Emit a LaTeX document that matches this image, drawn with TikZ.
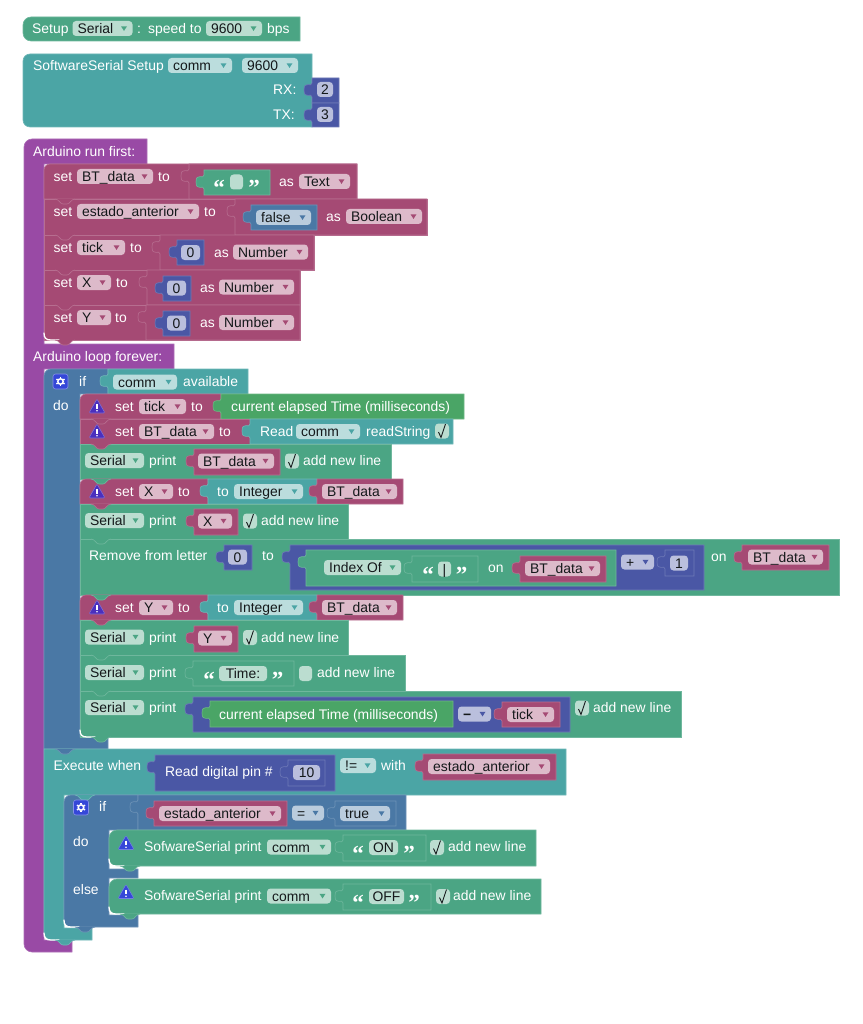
\documentclass[tikz,border=0pt]{standalone}
\usepackage{fontspec}
\setmainfont{Liberation Sans}
\newfontfamily\quotefont{Liberation Serif}
\definecolor{serialgreen}{HTML}{4BA584}
\definecolor{softteal}{HTML}{4BA5A5}
\definecolor{hatpurple}{HTML}{994AA5}
\definecolor{varmaroon}{HTML}{A54A74}
\definecolor{numblue}{HTML}{4A57A5}
\definecolor{logicblue}{HTML}{4A78A5}
\definecolor{timegreen}{HTML}{4AA566}
\definecolor{gearblue}{HTML}{3547D8}
\definecolor{warnpurple}{HTML}{4A2FBE}
\definecolor{pilltext}{HTML}{14181A}
\tikzset{
	every node/.style={font=\fontsize{13.9}{14}\selectfont,inner sep=0pt,text height=10pt,text depth=0pt},
	blk/.style={draw=#1!80!white,fill=#1,line width=.6pt},
	lbl/.style={anchor=west,text=white,yshift=-.4pt},
	pilltxt/.style={anchor=west,text=pilltext},
	midtxt/.style={anchor=center,text=pilltext},
	qmark/.style={anchor=center,text=white,text height=0pt,font=\quotefont\bfseries\fontsize{23}{23}\selectfont},
}
\newcount\lblno
\def\lab(#1,#2)#3{\global\advance\lblno by 1 \node[lbl] (lab\the\lblno) at (#1,#2) {#3};}
\def\rowb[#1](#2,#3,#4,#5){\draw[blk=#1] (#2,#3) rectangle (#4,#5);}
\def\rnd[#1](#2,#3,#4,#5){\draw[blk=#1] (#4,#3) [rounded corners=6pt] -- (#2,#3) [sharp corners] -- (#2,#5) -- (#4,#5) -- cycle;}
\def\val[#1](#2,#3,#4,#5){\draw[blk=#1] (#2,#3) -- (#2,{#3+5}) .. controls (#2,{#3+10}) and ({#2-8},{#3+2}) .. ({#2-8},{#3+12}) .. controls ({#2-8},{#3+22}) and (#2,{#3+14}) .. (#2,{#3+19}) -- (#2,#5) -- (#4,#5) -- (#4,#3) -- cycle;}
\def\bump[#1](#2,#3){\draw[blk=#1] ({#2+11},#3) .. controls ({#2+15},#3) and ({#2+16},{#3+5}) .. ({#2+19},{#3+5}) -- ({#2+23},{#3+5}) .. controls ({#2+26},{#3+5}) and ({#2+27},#3) .. ({#2+31},#3);}
\def\corn(#1,#2){\draw[white,line width=1.3pt,line cap=round] (#1,{#2-7}) .. controls (#1,{#2-2}) and ({#1+2},#2) .. ({#1+7},#2) -- ({#1+15},#2);}
\def\pill[#1](#2,#3,#4)#5{\global\advance\lblno by 1
	\fill[#1!38!white,rounded corners=3.5pt] (#2,{#4-7.5}) rectangle (#3,{#4+7.5});
	\node[pilltxt] (pill\the\lblno) at ({#2+5},#4) {#5};
	\fill[#1] ({#3-11.5},{#4-2.2}) -- ({#3-5.5},{#4-2.2}) -- ({#3-8.5},{#4+2.4}) -- cycle;}
\def\fld[#1](#2,#3,#4)#5{\global\advance\lblno by 1
	\fill[#1!38!white,rounded corners=3.5pt] (#2,{#4-7.5}) rectangle (#3,{#4+7.5});
	\node[midtxt] (fld\the\lblno) at ({(#2+#3)/2},#4) {#5};}
\def\chk(#1,#2){\fill[serialgreen!38!white,rounded corners=3.5pt] (#1,{#2-7.5}) rectangle ({#1+14},{#2+7.5});
	\draw[pilltext,line width=.9pt] ({#1+3.5},{#2+1}) -- ({#1+6},{#2+6.5}) -- ({#1+10.5},{#2-7});}
\def\quo(#1,#2,#3){\global\advance\lblno by 1
	\node[qmark] (qa\the\lblno) at (#1,{#3+26}) {“};
	\node[qmark] (qb\the\lblno) at (#2,{#3+26}) {”};}
\def\warn[#1](#2,#3){\draw[fill=#1,draw=#1!70!white,line width=.6pt,rounded corners=1.2pt] (#2,{#3-7.5}) -- ({#2+8},{#3+6.5}) -- ({#2-8},{#3+6.5}) -- cycle;
	\draw[white,line width=1.5pt] (#2,{#3-2.5}) -- (#2,{#3+2});
	\fill[white] (#2,{#3+4.3}) circle (.9);}
\def\gear(#1,#2){\draw[fill=gearblue,draw=gearblue!60!white,line width=.6pt,rounded corners=2.5pt] ({#1-7.5},{#2-7.5}) rectangle ({#1+7.5},{#2+7.5});
	\draw[white,line width=1.5pt] (#1,#2) circle (2.7);
	\foreach \a in {30,90,...,330} \draw[white,line width=1.5pt] (#1,#2) ++(\a:3.2) -- ++(\a:1.5);}

\begin{document}
\begin{tikzpicture}[x=1pt,y=-1pt]
	\useasboundingbox (0,0) rectangle (862,1024);
	%%%%% SETUP %%%%%
	\draw[blk=serialgreen] (300,17) [rounded corners=8pt] -- (23,17) -- (23,41) [sharp corners] -- (300,41) -- cycle;
	\lab(32,28.5){Setup}
	\pill[serialgreen](72.5,132.5,28.5){Serial}
	\lab(137,28.5){:}
	\lab(148,28.5){speed to}
	\pill[serialgreen](206,262,28.5){9600}
	\lab(267,28.5){bps}
	
	\draw[blk=softteal] (312,54) [rounded corners=7pt] -- (23,54) -- (23,127) [sharp corners] -- (312,127) -- cycle;
	\lab(33,65.5){SoftwareSerial Setup}
	\pill[softteal](168,232,65.5){comm}
	\pill[softteal](242,298,65.5){9600}
	\lab(273,89){RX:}
	\lab(273,114){TX:}
	\val[numblue](312,78,339,103)
	\fld[numblue](317,333,89.5){2}
	\val[numblue](312,103,339,127)
	\fld[numblue](317,333,114.5){3}
	
	%%%%% ARDUINO HAT %%%%%
	\draw[blk=hatpurple] (147,139) -- (147,164) -- (44,164) -- (44,344) -- (174,344) -- (174,369) -- (44,369) -- (44,940) -- (72,940) -- (72,952) [rounded corners=8pt] -- (24,952) -- (24,139) [sharp corners] -- cycle;
	\lab(33,151){Arduino run first:}
	\lab(33,356.5){Arduino loop forever:}
	
	%%%%% RUN FIRST %%%%%
	\rnd[varmaroon](44,164,357,199)
	\rowb[varmaroon](44,199,427,235)
	\bump[varmaroon](44,199)
	\rowb[varmaroon](44,235,314,270)
	\bump[varmaroon](44,235)
	\rowb[varmaroon](44,270,300,305)
	\bump[varmaroon](44,270)
	\rowb[varmaroon](44,305,300,340)
	\bump[varmaroon](44,305)
	\corn(44,340)
	\bump[varmaroon](44,340)
	
	\lab(53.5,176){set}
	\pill[varmaroon](77,153,176.5){BT\_data}
	\lab(158,176){to}
	\val[varmaroon](189,164,357,199)
	\val[serialgreen](204,170,270,195)
	\quo(219,254,170)
	\fld[serialgreen](230,243,182){}
	\lab(279,181.5){as}
	\pill[varmaroon](299,350,181.5){Text}
	
	\lab(53.5,211.5){set}
	\pill[varmaroon](77,199,211.5){estado\_anterior}
	\lab(204,211.5){to}
	\val[varmaroon](235,199,427,235)
	\val[logicblue](251,205,317,230)
	\pill[logicblue](256,311,217.5){false}
	\lab(326,216.5){as}
	\pill[varmaroon](346,422,216.5){Boolean}
	
	\lab(53.5,247){set}
	\pill[varmaroon](77,125,247.5){tick}
	\lab(130,247){to}
	\val[varmaroon](160,235,314,270)
	\val[numblue](177,240,204,265)
	\fld[numblue](181,200,252.5){0}
	\lab(214,252){as}
	\pill[varmaroon](233,308,252){Number}
	
	\lab(53.5,282){set}
	\pill[varmaroon](77,111,282.5){X}
	\lab(116,282){to}
	\val[varmaroon](147,270,300,305)
	\val[numblue](163,276,191,301)
	\fld[numblue](167,186,288){0}
	\lab(200,287){as}
	\pill[varmaroon](219,294,287){Number}
	
	\lab(53.5,317){set}
	\pill[varmaroon](77,111,317.5){Y}
	\lab(115,317){to}
	\val[varmaroon](146,305,300,340)
	\val[numblue](163,311,190,336)
	\fld[numblue](167,186,323){0}
	\lab(200,322.5){as}
	\pill[varmaroon](219,294,322.5){Number}
	
	%%%%% LOOP FOREVER: IF %%%%%
	\draw[blk=logicblue] (108,369) -- (108,394) -- (80,394) -- (80,737) -- (108,737) -- (108,749) -- (44,749) [rounded corners=7pt] -- (44,369) [sharp corners] -- cycle;
	\val[softteal](108,369,248,394)
	\gear(60.5,381.5)
	\lab(79,381){if}
	\lab(53,405){do}
	\pill[softteal](113,177,382){comm}
	\lab(183,381.5){available}
	
	\rnd[varmaroon](80,394,221,419)
	\val[timegreen](221,394,464,419)
	\warn[warnpurple](97,406.5)
	\lab(115,406){set}
	\pill[varmaroon](139,186,406.5){tick}
	\lab(191,406){to}
	\lab(231,406){current elapsed Time (milliseconds)}
	
	\rowb[varmaroon](80,419,250,444)
	\val[softteal](250,419,453,444)
	\bump[varmaroon](80,419)
	\warn[warnpurple](97,431.5)
	\lab(115,431){set}
	\pill[varmaroon](139,214,431.5){BT\_data}
	\lab(219,431){to}
	\lab(260,431){Read}
	\pill[softteal](296,360,431.5){comm}
	\lab(366,431){readString}
	\chk(435,431)
	
	\rowb[serialgreen](80,444,391,479)
	\bump[varmaroon](80,444)
	\pill[serialgreen](85,144,460.5){Serial}
	\lab(149,460.5){print}
	\val[varmaroon](194,449,280,475)
	\pill[varmaroon](198,274,461){BT\_data}
	\chk(285,461)
	\lab(303,460.5){add new line}
	
	\rnd[varmaroon](80,479,208,504)
	\val[softteal](208,479,317,504)
	\val[varmaroon](317,479,403,504)
	\bump[serialgreen](80,479)
	\warn[warnpurple](97,491.5)
	\lab(115,491){set}
	\pill[varmaroon](139,173,491.5){X}
	\lab(178,491){to}
	\lab(217,491){to}
	\pill[softteal](234,303,491.5){Integer}
	\pill[varmaroon](322,397,491.5){BT\_data}
	
	\rowb[serialgreen](80,504,348,539)
	\bump[varmaroon](80,504)
	\pill[serialgreen](85,144,520.5){Serial}
	\lab(149,520.5){print}
	\val[varmaroon](194,509,238,535)
	\pill[varmaroon](198,232,521){X}
	\chk(243,521)
	\lab(261,520.5){add new line}
	
	%%%%% REMOVE FROM LETTER %%%%%
	\rowb[serialgreen](80,539,839,595)
	\bump[serialgreen](80,539)
	\lab(89,555.5){Remove from letter}
	\val[numblue](224,545,252,570)
	\fld[numblue](228,247,557){0}
	\lab(262,555.5){to}
	\val[numblue](290,545,704,590)
	\val[serialgreen](306,550,616,586)
	\pill[serialgreen](324,401,567.5){Index Of}
	\val[serialgreen](412,556,478,582)
	\quo(428,461.5,556)
	\fld[serialgreen](438,451,569){|}
	\lab(488,567.5){on}
	\val[varmaroon](520,556,606,582)
	\pill[varmaroon](525,600,568.5){BT\_data}
	\pill[numblue](621,654,562){+}
	\val[numblue](665,550,694,576)
	\fld[numblue](670,688,563){1}
	\lab(711,556){on}
	\val[varmaroon](742,545,829,570)
	\pill[varmaroon](748,823,557){BT\_data}
	
	\rnd[varmaroon](80,595,208,620)
	\val[softteal](208,595,317,620)
	\val[varmaroon](317,595,403,620)
	\bump[serialgreen](80,595)
	\warn[warnpurple](97,607.5)
	\lab(115,607){set}
	\pill[varmaroon](139,173,607.5){Y}
	\lab(178,607){to}
	\lab(217,607){to}
	\pill[softteal](234,303,607.5){Integer}
	\pill[varmaroon](322,397,607.5){BT\_data}
	
	\rowb[serialgreen](80,620,348,655)
	\bump[varmaroon](80,620)
	\pill[serialgreen](85,144,637){Serial}
	\lab(149,637){print}
	\val[varmaroon](194,626,238,652)
	\pill[varmaroon](198,232,638){Y}
	\chk(243,637.5)
	\lab(261,637){add new line}
	
	\rowb[serialgreen](80,655,405,691)
	\bump[serialgreen](80,655)
	\pill[serialgreen](85,144,672.5){Serial}
	\lab(149,672.5){print}
	\val[serialgreen](193,661,294,686)
	\quo(209,277.5,661)
	\fld[serialgreen](219,267,673.5){Time:}
	\fill[serialgreen!38!white,rounded corners=3.5pt] (299,666) rectangle (312,681);
	\lab(317,672.5){add new line}
	
	\rowb[serialgreen](80,691,681,737)
	\bump[serialgreen](80,691)
	\pill[serialgreen](85,144,707.5){Serial}
	\lab(149,707.5){print}
	\val[numblue](193,697,570,732)
	\val[timegreen](210,701,453,727)
	\lab(219,714){current elapsed Time (milliseconds)}
	\pill[numblue](458,491,714){\textbf{−}}
	\val[varmaroon](502,702,560,727)
	\pill[varmaroon](507,554,714.5){tick}
	\chk(575,708)
	\lab(593,707.5){add new line}
	\corn(80,737)
	\bump[serialgreen](80,737)
	
	%%%%% EXECUTE WHEN %%%%%
	\draw[blk=softteal] (566,749) -- (566,795) -- (64,795) -- (64,928) -- (92,928) -- (92,940) [rounded corners=8pt] -- (44,940) [sharp corners] -- (44,749) -- cycle;
	\bump[logicblue](44,749)
	\lab(53.5,765){Execute when}
	\val[numblue](155,755,335,791)
	\lab(165,771){Read digital pin \#}
	\val[numblue](288,760,325,786)
	\fld[numblue](293,320,772.5){10}
	\pill[softteal](340,376,765.5){!=}
	\lab(381,765.5){with}
	\val[varmaroon](423,754,556,780)
	\pill[varmaroon](428,550,766.5){estado\_anterior}
	
	%%%%% INNER IF %%%%%
	\draw[blk=logicblue] (138,795) -- (138,830) -- (109,830) -- (109,869) -- (138,869) -- (138,878) -- (109,878) -- (109,915) -- (138,915) -- (138,927) [rounded corners=7pt] -- (64,927) -- (64,795) [sharp corners] -- cycle;
	\bump[softteal](64,795)
	\val[logicblue](138,795,406,830)
	\gear(81,807.5)
	\lab(99,806){if}
	\lab(73,841){do}
	\lab(73,889){else}
	\val[varmaroon](154,801,287,826)
	\pill[varmaroon](159,281,813.5){estado\_anterior}
	\pill[logicblue](292,324,813){=}
	\val[logicblue](335,801,396,826)
	\pill[logicblue](340,390,813.5){true}
	\corn(64,927)
	\bump[logicblue](64,927)
	\corn(44,940)
	\bump[softteal](44,940)
	
	\draw[blk=serialgreen] (536,830) [rounded corners=8pt] -- (109,830) -- (109,866) [sharp corners] -- (536,866) -- cycle;
	\warn[gearblue](126,843)
	\lab(144,846.5){SofwareSerial print}
	\pill[serialgreen](267,331,847){comm}
	\val[serialgreen](343,835,426,861)
	\quo(358,409,835)
	\fld[serialgreen](369,398,847.5){ON}
	\chk(430,847.5)
	\lab(448,846.5){add new line}
	\corn(109,866)
	\bump[serialgreen](109,866)
	
	\draw[blk=serialgreen] (541,879) [rounded corners=8pt] -- (109,879) -- (109,914) [sharp corners] -- (541,914) -- cycle;
	\warn[gearblue](126,892)
	\lab(144,895){SofwareSerial print}
	\pill[serialgreen](267,331,896){comm}
	\val[serialgreen](343,884,431,910)
	\quo(358,414,884)
	\fld[serialgreen](369,404,896.5){OFF}
	\chk(436,896.5)
	\lab(453,895){add new line}
	\corn(109,914)
	\bump[serialgreen](109,914)
\end{tikzpicture}
\end{document}
